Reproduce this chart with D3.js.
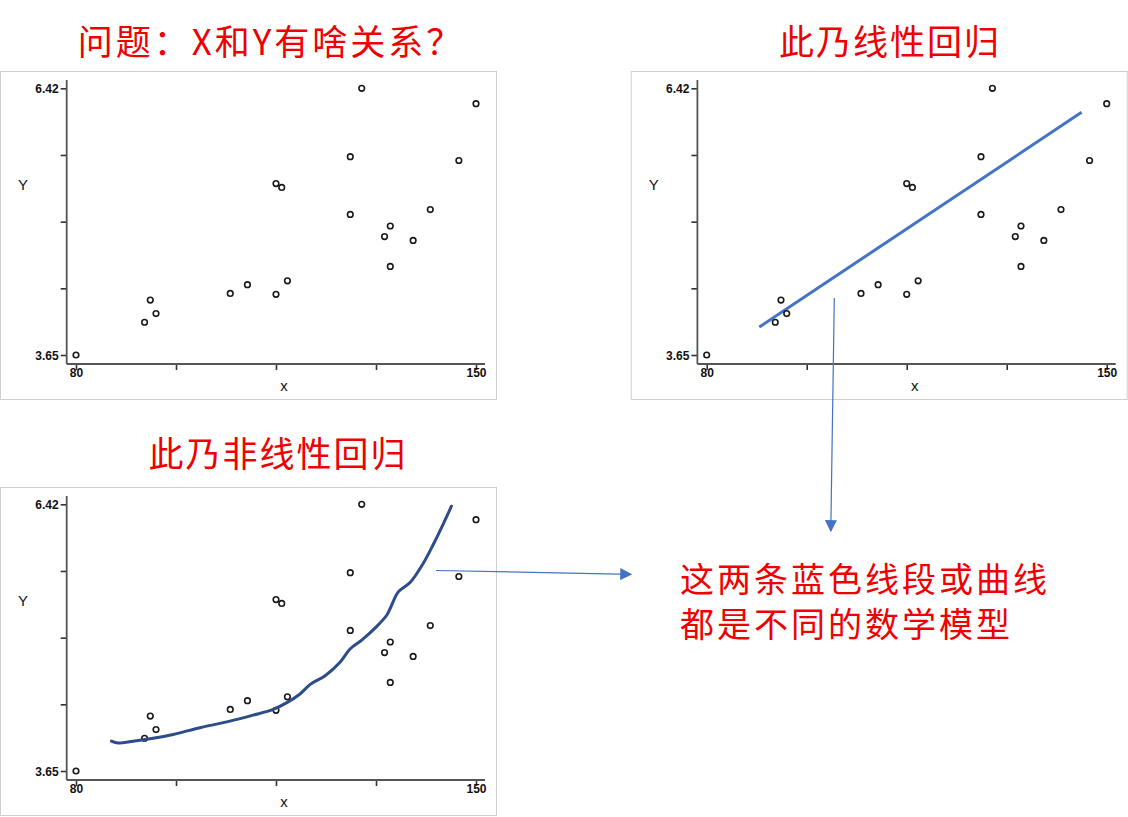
<!DOCTYPE html>
<html>
<head>
<meta charset="utf-8">
<script src="https://cdn.jsdelivr.net/npm/d3@7"></script>
<style>
  body { margin: 0; background: #fff; }
  svg { display: block; }
</style>
</head>
<body>
<svg id="chart" width="1128" height="817"></svg>
<script>
// scatter data
const xs = [80, 92, 93, 94, 107, 110, 115, 117, 115, 116, 128, 128, 130, 134, 135, 135, 139, 142, 147, 150]
const ys = [3.65, 3.99, 4.22, 4.08, 4.29, 4.38, 4.28, 4.42, 5.43, 5.39, 5.71, 5.11, 6.42, 4.88, 4.99, 4.57, 4.84, 5.16, 5.67, 6.26]

// fitted straight line (end points)
const lineX = [89.2, 145.6]
const lineY = [3.94, 6.17]

// non-linear fit curve
const curveX = [86.2, 87.4, 90.0, 93.5, 97.0, 101.7, 106.4, 111.0, 114.5, 116.9, 119.2, 121.0, 123.6, 126.2, 128.0, 130.0, 132.6, 134.4, 135.0, 136.4, 138.5, 140.8, 142.5, 144.3, 145.7]
const curveY = [3.96, 3.94, 3.96, 3.99, 4.03, 4.10, 4.16, 4.23, 4.29, 4.36, 4.45, 4.55, 4.64, 4.78, 4.92, 5.01, 5.15, 5.27, 5.34, 5.51, 5.61, 5.81, 6.00, 6.22, 6.40]

const xDomain = [80, 150]
const yDomain = [3.65, 6.42]
const xTickLabels = ['80', '', '', '', '150']
const yTickLabels = ['3.65', '', '', '', '6.42']

const titles = ['问题：X和Y有啥关系？', '此乃线性回归', '此乃非线性回归']
const note = ['这两条蓝色线段或曲线', '都是不同的数学模型']

const svg = d3.select('#chart')
const red = '#f00000'
const blue = '#4472c4'

const x = d3.scaleLinear().domain(xDomain).range([76, 476])
const y = d3.scaleLinear().domain(yDomain).range([355, 88.3])

function drawPanel(dx, dy) {
	let g = svg.append('g').attr('transform', `translate(${dx},${dy})`)

	g.append('rect')
		.attr('x', 0.5).attr('y', 71.5)
		.attr('width', 496).attr('height', 328)
		.style('fill', '#fff')
		.style('stroke', '#cfcfcf')

	let xt = d3.range(5).map(i => xDomain[0] + i * (xDomain[1] - xDomain[0]) / 4)
	let yt = d3.range(5).map(i => yDomain[0] + i * (yDomain[1] - yDomain[0]) / 4)

	let yAxis = g.append('g')
		.attr('transform', 'translate(66.7,0)')
		.call(d3.axisLeft(y).tickValues(yt).tickSize(6).tickSizeOuter(0)
			.tickFormat((d, i) => yTickLabels[i]))
	let xAxis = g.append('g')
		.attr('transform', 'translate(0,364)')
		.call(d3.axisBottom(x).tickValues(xt).tickSize(6).tickSizeOuter(0)
			.tickFormat((d, i) => xTickLabels[i]))

	for (let ax of [yAxis, xAxis]) {
		ax.select('.domain').remove()
		ax.selectAll('line').style('stroke', '#333').style('stroke-width', 1.6)
		ax.selectAll('text')
			.style('font-family', 'Liberation Sans, Arial, sans-serif')
			.style('font-size', '12px')
			.style('font-weight', 'bold')
			.style('fill', '#111')
	}
	yAxis.selectAll('text').attr('x', -8).attr('dy', '0.35em')
	xAxis.selectAll('text').attr('y', 6).attr('dy', '0.6em')

	// axis lines run past the outer ticks
	g.append('line')
		.attr('x1', 66.7).attr('x2', 66.7).attr('y1', 80).attr('y2', 364)
		.style('stroke', '#555').style('stroke-width', 1.8)
	g.append('line')
		.attr('x1', 66.7).attr('x2', 485).attr('y1', 364).attr('y2', 364)
		.style('stroke', '#555').style('stroke-width', 1.8)

	g.append('text').text('Y')
		.attr('x', 23).attr('y', 190)
		.attr('text-anchor', 'middle')
		.style('font-family', 'Liberation Sans, Arial, sans-serif')
		.style('font-size', '15px')
		.style('fill', '#111')
	g.append('text').text('x')
		.attr('x', 284).attr('y', 391)
		.attr('text-anchor', 'middle')
		.style('font-family', 'Liberation Sans, Arial, sans-serif')
		.style('font-size', '15px')
		.style('fill', '#111')

	return g
}

function drawPoints(g) {
	g.selectAll('circle.pt')
		.data(xs)
		.enter()
		.append('circle')
		.attr('class', 'pt')
		.attr('cx', d => x(d))
		.attr('cy', (d, i) => y(ys[i]))
		.attr('r', 2.8)
		.style('fill', '#fff')
		.style('stroke', '#1a1a1a')
		.style('stroke-width', 1.6)
}

let p1 = drawPanel(0, 0)
drawPoints(p1)

let p2 = drawPanel(630.7, 0)
p2.append('path')
	.datum(lineX.map((d, i) => [d, lineY[i]]))
	.attr('d', d3.line().x(d => x(d[0])).y(d => y(d[1])))
	.style('fill', 'none')
	.style('stroke', blue)
	.style('stroke-width', 3)
drawPoints(p2)

let p3 = drawPanel(0, 416)
drawPoints(p3)
p3.append('path')
	.datum(curveX.map((d, i) => [d, curveY[i]]))
	.attr('d', d3.line().x(d => x(d[0])).y(d => y(d[1])).curve(d3.curveCatmullRom))
	.style('fill', 'none')
	.style('stroke', '#2d4c8c')
	.style('stroke-width', 3)
	.style('stroke-linecap', 'round')

// arrows
svg.append('defs').append('marker')
	.attr('id', 'head')
	.attr('viewBox', '0 0 10 10')
	.attr('refX', 9).attr('refY', 5)
	.attr('markerWidth', 12).attr('markerHeight', 12)
	.attr('markerUnits', 'userSpaceOnUse')
	.attr('orient', 'auto')
	.append('path')
	.attr('d', 'M0,0L10,5L0,10Z')
	.style('fill', blue)

svg.append('line')
	.attr('x1', 834.3).attr('y1', 298).attr('x2', 830.8).attr('y2', 531)
	.style('stroke', blue).style('stroke-width', 1.2)
	.attr('marker-end', 'url(#head)')
svg.append('line')
	.attr('x1', 436).attr('y1', 570.5).attr('x2', 631).attr('y2', 574.3)
	.style('stroke', blue).style('stroke-width', 1.2)
	.attr('marker-end', 'url(#head)')

// titles and note
const cjk = '"Noto Sans CJK SC", sans-serif'
let titlePos = [[271, 55], [890, 55], [278, 467]]
svg.selectAll('text.title')
	.data(titles)
	.enter()
	.append('text')
	.attr('class', 'title')
	.attr('x', (d, i) => titlePos[i][0])
	.attr('y', (d, i) => titlePos[i][1])
	.attr('text-anchor', 'middle')
	.style('font-family', cjk)
	.style('font-size', '35px')
	.style('letter-spacing', (d, i) => i == 0 ? '3px' : '2px')
	.style('fill', red)
	.text(d => d)

svg.selectAll('text.note')
	.data(note)
	.enter()
	.append('text')
	.attr('class', 'note')
	.attr('x', 680)
	.attr('y', (d, i) => 592 + i * 45)
	.style('font-family', cjk)
	.style('font-size', '34px')
	.style('letter-spacing', '3px')
	.style('fill', red)
	.text(d => d)
</script>
</body>
</html>
